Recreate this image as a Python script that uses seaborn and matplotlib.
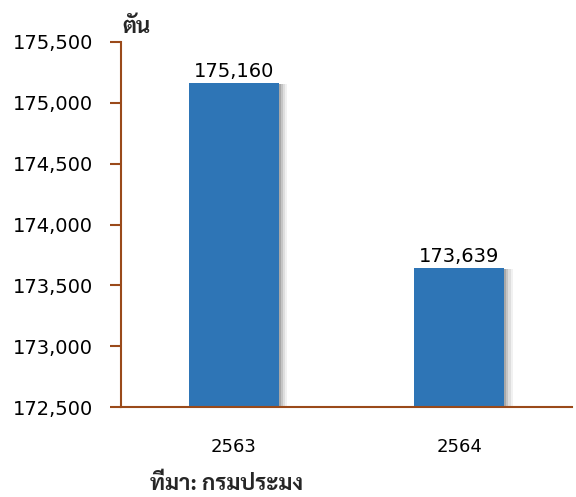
import matplotlib
matplotlib.use("Agg")
import matplotlib.pyplot as plt
import matplotlib.patheffects as pe
from matplotlib import font_manager as fm
import seaborn as sns
import pandas as pd

years = ["2563", "2564"]
values = [175160, 173639]
y_ticks = [172500, 173000, 173500, 174000, 174500, 175000, 175500]
unit_label = "ตัน"
source_label = "ที่มา: กรมประมง"

sns.set_theme(style="white")
available = {f.name for f in fm.fontManager.ttflist}
thai_font = next((n for n in ["Sarabun", "Noto Sans Thai Looped", "Noto Sans Thai",
                              "Bai Jamjuree", "Athiti", "Anuphan"] if n in available),
                 "DejaVu Sans")
plt.rcParams['font.family'] = ['DejaVu Sans', thai_font]

df = pd.DataFrame({"year": years, "value": values})

fig = plt.figure(figsize=(5.76, 4.97), dpi=100)
ax = fig.add_axes([0.210, 0.181, 0.783, 0.7345])

sns.barplot(data=df, x="year", y="value", color="#2E75B6", saturation=1,
            width=0.4, ax=ax)
shadow = [pe.SimplePatchShadow(offset=(d, -0.5), shadow_rgbFace="#555555", alpha=a)
          for d, a in [(6, 0.08), (4.5, 0.12), (3, 0.18), (1.5, 0.25)]]
for p in ax.patches:
    p.set_path_effects(shadow + [pe.Normal()])
    p.set_linewidth(0)

ax.set_ylim(172500, 175500)
ax.set_xlim(-0.5, 1.5)
ax.set_yticks(y_ticks)
ax.set_yticklabels([f"{v:,}" for v in y_ticks], fontsize=14, color="black")
ax.set_xticklabels(years, fontsize=13, color="black")
ax.set_xlabel("")
ax.set_ylabel("")

spine_color = "#9A4A1A"
for s in ["top", "right"]:
    ax.spines[s].set_visible(False)
ax.spines["left"].set_color(spine_color)
ax.spines["bottom"].set_color(spine_color)
ax.spines["left"].set_linewidth(1.5)
ax.spines["bottom"].set_linewidth(1.5)
ax.tick_params(axis="y", which="both", left=True, length=8, width=1.5,
               color=spine_color, pad=12)
ax.tick_params(axis="x", which="both", bottom=False, pad=16)

for i, v in enumerate(values):
    ax.annotate(f"{v:,}", (i, v), xytext=(0, 2), textcoords="offset points",
                ha="center", va="bottom", fontsize=14, color="black")

fig.text(0.212, 0.945, unit_label, fontsize=16, fontweight="bold", ha="left", va="center",
         family=[thai_font, 'DejaVu Sans'])
fig.text(0.26, 0.025, source_label, fontsize=16, fontweight="bold", ha="left", va="center",
         family=[thai_font, 'DejaVu Sans'])

fig.savefig("out.png", dpi=100)
